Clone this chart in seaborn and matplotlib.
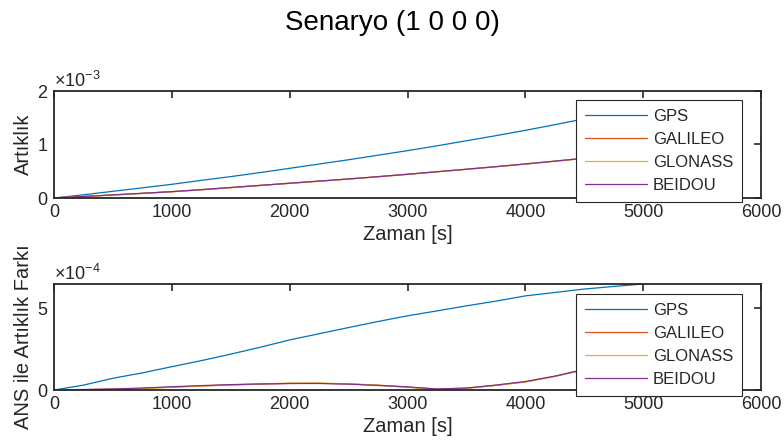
import numpy as np
import pandas as pd
import matplotlib
matplotlib.use("Agg")
import matplotlib.pyplot as plt
import seaborn as sns
from matplotlib.ticker import ScalarFormatter

t = [0, 250, 500, 750, 1000, 1250, 1500, 1750, 2000, 2250, 2500, 2750, 3000,
     3250, 3500, 3750, 4000, 4250, 4500, 4750, 5000]

# top panel: Artiklik (x1e-3)
top_gps = [0, 0.06, 0.125, 0.19, 0.256, 0.33, 0.40, 0.475, 0.555, 0.635, 0.715,
           0.80, 0.885, 0.975, 1.07, 1.165, 1.265, 1.37, 1.48, 1.59, 1.70]
top_galileo = [0, 0.028, 0.057, 0.087, 0.118, 0.155, 0.195, 0.235, 0.275, 0.315,
               0.355, 0.398, 0.443, 0.49, 0.537, 0.585, 0.635, 0.688, 0.742, 0.797, 0.855]
top_glonass = [0, 0.027, 0.056, 0.086, 0.117, 0.154, 0.194, 0.234, 0.274, 0.314,
               0.354, 0.397, 0.442, 0.489, 0.536, 0.584, 0.634, 0.687, 0.741, 0.796, 0.854]
top_beidou = [0, 0.029, 0.058, 0.088, 0.119, 0.156, 0.196, 0.236, 0.276, 0.316,
              0.356, 0.399, 0.444, 0.491, 0.538, 0.586, 0.636, 0.689, 0.743, 0.798, 0.856]

# bottom panel: ANS ile Artiklik Farki (x1e-4)
bot_gps = [0, 0.3, 0.72, 1.05, 1.43, 1.8, 2.2, 2.62, 3.07, 3.45, 3.83, 4.2, 4.55,
           4.85, 5.16, 5.45, 5.77, 5.98, 6.19, 6.35, 6.5]
bot_galileo = [0, 0.02, 0.05, 0.1, 0.18, 0.25, 0.31, 0.36, 0.4, 0.41, 0.37, 0.29, 0.18,
               0.05, 0.11, 0.29, 0.5, 0.84, 1.25, 1.65, 2.05]
bot_glonass = [0, 0.02, 0.04, 0.09, 0.16, 0.24, 0.31, 0.37, 0.42, 0.42, 0.38, 0.3, 0.17,
               0.04, 0.1, 0.28, 0.49, 0.83, 1.24, 1.64, 2.04]
bot_beidou = [0, 0.03, 0.06, 0.12, 0.2, 0.27, 0.33, 0.37, 0.4, 0.4, 0.36, 0.28, 0.19,
              0.06, 0.12, 0.3, 0.52, 0.85, 1.26, 1.66, 2.06]

names = ["GPS", "GALILEO", "GLONASS", "BEIDOU"]
colors = ["#0072BD", "#D95319", "#EDB120", "#7E2F8E"]

sns.set_style("white")
plt.rcParams['font.family'] = ['Liberation Sans', 'DejaVu Sans']
plt.rcParams['mathtext.fontset'] = 'custom'
plt.rcParams['mathtext.rm'] = 'Liberation Sans'

def frame(series, scale):
    rows = []
    for n, s in zip(names, series):
        for ti, v in zip(t, s):
            rows.append({"t": ti, "v": v * scale, "sys": n})
    return pd.DataFrame(rows)

df_top = frame([top_gps, top_galileo, top_glonass, top_beidou], 1e-3)
df_bot = frame([bot_gps, bot_galileo, bot_glonass, bot_beidou], 1e-4)

fig = plt.figure(figsize=(7.84, 4.48), dpi=100)
W, H = 784, 448
ax1 = fig.add_axes([54 / W, (H - 198) / H, 707 / W, 107 / H])
ax2 = fig.add_axes([54 / W, (H - 390) / H, 707 / W, 106 / H])

pal = dict(zip(names, colors))
fs = 13
lfs = 12
txt = "#262626"
for ax, df, ylim, yt, ylab, leg_top in [
    (ax1, df_top, (0, 2e-3), [0, 1e-3, 2e-3], "Artıklık", 100),
    (ax2, df_bot, (0, 6.5e-4), [0, 5e-4], "ANS ile Artıklık Farkı", 294),
]:
    sns.lineplot(data=df, x="t", y="v", hue="sys", palette=pal, ax=ax,
                 linewidth=0.9, legend=True)
    ax.set_xlim(0, 6000)
    ax.set_ylim(*ylim)
    ax.set_xticks([0, 1000, 2000, 3000, 4000, 5000, 6000])
    ax.set_yticks(yt)
    fmt = ScalarFormatter(useMathText=True)
    fmt.set_powerlimits((0, 0))
    ax.yaxis.set_major_formatter(fmt)
    ax.yaxis.get_offset_text().set_fontsize(fs)
    ax.yaxis.get_offset_text().set_color(txt)
    ax.tick_params(direction="in", length=5, width=1.2, labelsize=fs, pad=4,
                   top=True, right=True, colors=txt, labelcolor=txt)
    for sp in ax.spines.values():
        sp.set_linewidth(1.3)
        sp.set_color(txt)
    ax.set_xlabel("Zaman [s]", fontsize=14.5, color=txt, labelpad=3)
    ax.set_ylabel(ylab, fontsize=14.5, color=txt, labelpad=3)
    handles, labels = ax.get_legend_handles_labels()
    leg = ax.legend(handles, labels, loc="upper left",
                    bbox_to_anchor=(576 / W, 1 - leg_top / H),
                    bbox_transform=fig.transFigure, fontsize=lfs,
                    frameon=True, fancybox=False, framealpha=1,
                    edgecolor=txt, handlelength=3.7, borderpad=0.55,
                    labelspacing=0.48, handletextpad=0.36, borderaxespad=0)
    leg.get_frame().set_linewidth(0.8)
    leg.set_zorder(5)

fig.text(0.5, 1 - 30 / H, "Senaryo (1 0 0 0)", fontsize=20, ha="center",
         va="baseline", color="black")
fig.savefig("out.png", dpi=100)
